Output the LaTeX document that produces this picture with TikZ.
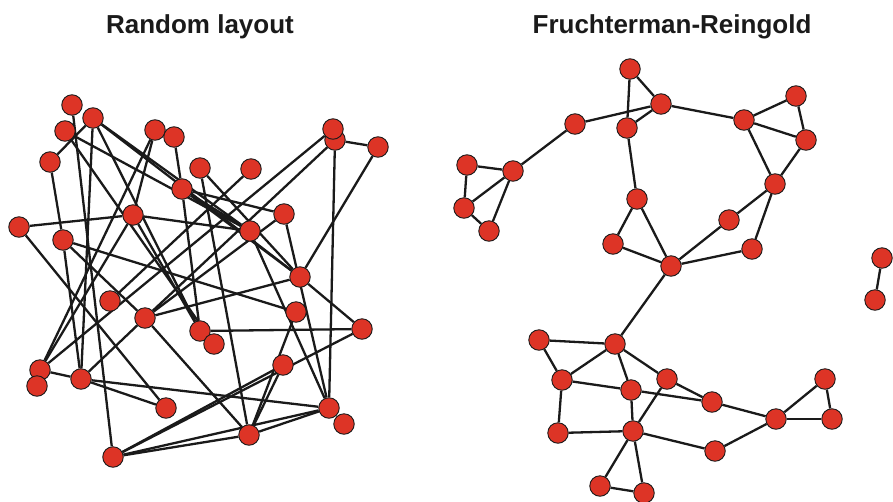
\documentclass[tikz,border=0pt]{standalone}
\usepackage{fontspec}
\setmainfont{Liberation Sans}
\usetikzlibrary{positioning}
\pgfdeclarelayer{background}
\pgfsetlayers{background,main}
\definecolor{vertexred}{RGB}{221,52,38}
\definecolor{linkblack}{RGB}{26,26,26}

\begin{document}
\begin{tikzpicture}[x=1pt, y=-1pt,
    graph vertex/.style={draw=linkblack, line width=0.9pt, circle, fill=vertexred, minimum size=20.5pt, inner sep=0pt},
    graph link/.style={draw=linkblack, line width=2.3pt},
    panel title/.style={font=\bfseries\fontsize{26}{30}\selectfont, text=linkblack, anchor=base}]
    \useasboundingbox (0,0) rectangle (893,501);

    \node[panel title] (rltitle) at (200,33) {Random layout};
    \node[panel title] (frtitle) at (672,33) {Fruchterman-Reingold};

    \foreach \n/\x/\y in {1/72/105, 2/93/118, 3/65/131, 4/50/162, 5/155/130, 6/174/137,
        7/200/168, 8/251/169, 9/182/189, 10/133/215, 11/19/227, 12/63/240, 13/284/214,
        14/250/231, 16/335/140, 15/333/129, 17/378/147, 18/300/277, 19/110/301,
        20/145/318, 21/296/312, 22/200/331, 23/214/344, 24/362/329, 25/40/370,
        26/37/386, 27/81/379, 28/166/408, 29/283/365, 30/329/408, 31/344/424,
        32/249/435, 33/113/457}
        \node[graph vertex] (rl\n) at (\x,\y) {};

    \foreach \n/\x/\y in {1/630/69, 2/661/104, 3/627/128, 4/575/124, 5/513/171, 6/467/165,
        7/464/208, 8/489/231, 9/637/199, 10/613/244, 11/671/266, 12/744/120, 13/796/96,
        14/806/140, 15/775/184, 16/729/220, 17/752/249, 18/882/258, 19/875/300,
        20/615/344, 21/539/340, 22/562/380, 23/631/390, 24/667/379, 25/712/402,
        26/558/433, 27/633/431, 28/715/451, 29/776/419, 30/825/379, 31/832/419,
        32/600/486, 33/644/493}
        \node[graph vertex] (fr\n) at (\x,\y) {};

    \begin{pgfonlayer}{background}
    \foreach \a/\b in {2/4, 4/12, 1/33, 2/27, 2/14, 2/18, 2/22, 11/10, 10/14, 10/22,
        10/25, 5/10, 5/25, 9/13, 9/22, 12/27, 25/27, 27/20, 27/28, 27/30, 11/28,
        16/17, 16/30, 15/25, 16/20, 17/18, 18/24, 22/24, 24/33, 29/33, 29/32, 21/32,
        30/32, 32/33, 30/33, 20/32, 32/7, 8/19, 13/20, 12/21, 12/20, 3/23, 3/14,
        6/9, 9/18, 14/30, 13/30, 9/14, 7/18, 20/18}
        \draw[graph link] (rl\a) -- (rl\b);
    \foreach \a/\b in {1/3, 1/2, 2/3, 2/4, 2/12, 4/5, 5/6, 5/7, 5/8, 6/7, 7/8, 3/9,
        9/10, 9/11, 10/11, 12/13, 12/14, 13/14, 12/15, 14/15, 15/16, 15/17, 16/11,
        17/11, 11/20, 20/21, 20/22, 20/23, 20/24, 21/22, 22/23, 22/26, 23/25, 23/27,
        24/25, 24/27, 25/29, 26/27, 27/28, 28/29, 29/30, 29/31, 30/31, 27/32, 27/33,
        32/33, 18/19}
        \draw[graph link] (fr\a) -- (fr\b);
    \end{pgfonlayer}
\end{tikzpicture}
\end{document}
